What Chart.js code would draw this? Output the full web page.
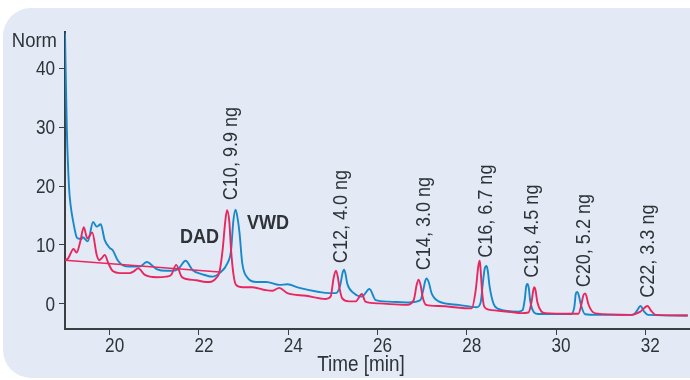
<!DOCTYPE html>
<html>
<head>
<meta charset="utf-8">
<script src="https://cdn.jsdelivr.net/npm/chart.js@4/dist/chart.umd.min.js"></script>
<style>
  html, body { margin: 0; padding: 0; background: #fff; }
  #wrap { width: 690px; height: 380px; }
</style>
</head>
<body>
<div id="wrap"><canvas id="chromChart" width="690" height="380"></canvas></div>
<script>
// ===== DATA =====
const vwdTime = [19.00, 19.04, 19.09, 19.13, 19.19, 19.26, 19.29, 19.37, 19.40, 19.51, 19.63, 19.71, 19.80, 19.89,
  20.00, 20.07, 20.18, 20.30, 20.45, 20.67, 20.83, 21.05, 21.28, 21.41, 21.55, 21.70, 21.86, 22.08, 22.30,
  22.46, 22.64, 22.72, 22.77, 22.82, 22.86, 22.91, 22.97, 23.09, 23.29, 23.51, 23.80, 23.98, 24.25, 24.69,
  24.92, 25.07, 25.16, 25.22, 25.25, 25.28, 25.32, 25.47, 25.65, 25.82, 25.96, 26.25, 26.70, 26.96, 27.03,
  27.07, 27.10, 27.15, 27.21, 27.37, 27.82, 28.22, 28.31, 28.36, 28.40, 28.44, 28.47, 28.51, 28.60, 28.71,
  29.16, 29.25, 29.30, 29.33, 29.36, 29.39, 29.42, 29.51, 29.60, 30.34, 30.41, 30.44, 30.47, 30.51, 30.55,
  30.65, 30.94, 31.72, 31.81, 31.89, 31.97, 32.06, 32.95];
const vwdNorm = [46.0, 30.0, 19.8, 16.5, 13.7, 11.3, 11.1, 11.0, 11.3, 10.6, 13.9, 13.1, 13.5, 10.8,
  9.5, 9.1, 7.4, 6.5, 6.3, 6.3, 7.1, 5.9, 5.6, 5.6, 6.0, 7.3, 5.7, 5.0, 4.6,
  5.2, 6.9, 9.1, 14.0, 16.0, 14.8, 12.0, 6.9, 4.4, 3.7, 3.7, 3.2, 3.3, 2.7, 2.0,
  1.8, 1.8, 3.0, 5.3, 5.8, 5.2, 3.5, 1.8, 1.2, 2.5, 0.6, 0.35, 0.2, 0.6, 2.5,
  3.9, 4.3, 3.6, 1.8, 0.4, -0.2, -0.6, 0.2, 3.5, 5.9, 6.4, 5.6, 3.0, 0.0, -0.9,
  -1.35, -1.1, 0.8, 2.9, 3.35, 2.6, 0.5, -1.5, -1.75, -1.75, -0.5, 1.6, 2.0, 1.4, 0.0,
  -1.8, -1.9, -1.9, -1.2, -0.4, -1.3, -1.9, -2.0];

const dadTime = [19.00, 19.07, 19.19, 19.26, 19.34, 19.42, 19.50, 19.61, 19.71, 19.77, 19.83, 19.89, 19.97,
  20.07, 20.23, 20.45, 20.54, 20.64, 20.79, 21.05, 21.27, 21.38, 21.49, 21.61, 21.72, 21.94, 22.16, 22.24,
  22.39, 22.46, 22.53, 22.59, 22.63, 22.68, 22.72, 22.77, 22.83, 22.98, 23.20, 23.50, 23.65, 23.80, 23.98,
  24.40, 24.84, 24.95, 25.02, 25.07, 25.11, 25.15, 25.21, 25.36, 25.51, 25.65, 25.73, 26.03, 26.63, 26.81,
  26.88, 26.92, 26.97, 27.01, 27.09, 27.37, 28.11, 28.20, 28.26, 28.29, 28.31, 28.34, 28.39, 28.49, 29.00,
  29.22, 29.38, 29.45, 29.49, 29.51, 29.54, 29.58, 29.67, 29.76, 30.34, 30.50, 30.57, 30.61, 30.65, 30.68,
  30.72, 30.88, 31.68, 31.88, 32.05, 32.13, 32.23, 32.95];
const dadNorm = [7.4, 7.7, 9.3, 8.7, 10.5, 13.0, 11.1, 12.1, 8.3, 7.4, 7.8, 8.3, 6.9,
  5.55, 5.2, 5.2, 5.5, 6.0, 4.9, 4.5, 4.6, 4.9, 6.6, 4.6, 4.2, 4.0, 3.7, 3.7,
  4.4, 5.4, 9.1, 14.0, 15.9, 14.0, 9.1, 5.2, 3.2, 2.8, 2.8, 2.3, 2.2, 2.7, 1.8,
  1.35, 0.8, 1.2, 4.5, 5.6, 4.6, 2.6, 0.9, 0.4, 0.4, 1.65, 0.35, 0.05, -0.2, 0.6,
  3.3, 4.1, 3.0, 1.2, -0.2, -0.4, -0.8, 2.3, 6.5, 7.3, 5.8, 2.3, -0.5, -1.0, -1.4,
  -1.6, -1.5, 0.3, 2.3, 2.8, 2.3, 0.3, -1.3, -1.6, -1.7, -1.7, 0.0, 1.4, 1.75, 1.3,
  0.0, -1.65, -1.9, -1.4, -0.4, -1.2, -1.9, -2.0];

// DAD baseline drawn under the early part of the trace
const baseTime = [19.0, 22.46];
const baseNorm = [7.4, 5.4];

const xTicks = [20, 22, 24, 26, 28, 30, 32];
const yTicks = [0, 10, 20, 30, 40];

// peak labels: text, time and norm where the text starts
const peakText = ["C10, 9.9 ng", "C12, 4.0 ng", "C14, 3.0 ng", "C16, 6.7 ng", "C18, 4.5 ng", "C20, 5.2 ng", "C22, 3.3 ng"];
const peakTime = [22.73, 25.18, 27.06, 28.44, 29.47, 30.63, 32.06];
const peakNorm = [17.6, 6.9, 5.7, 7.8, 4.4, 2.8, 1.0];

const BLUE = "#1789cb";
const RED = "#e8275f";
const TXT = "#2f3338";
const AXIS = "#3b3f44";
const FONT = "'Liberation Sans', Arial, sans-serif";
const NARROW = 0.88; // squeeze to get a condensed look

const pts = (xs, ys) => xs.map((x, i) => ({ x: x, y: ys[i] }));

// condensed text helper
function narrowText(c, text, x, y, opt) {
  c.save();
  c.translate(x, y);
  if (opt.rot) c.rotate(opt.rot);
  c.scale(NARROW, 1);
  c.font = (opt.bold ? "bold " : "") + opt.size + "px " + FONT;
  c.textAlign = opt.align || "left";
  c.textBaseline = opt.base || "alphabetic";
  c.fillStyle = TXT;
  c.fillText(text, 0, 0);
  c.restore();
}

// ===== background + texts =====
const decor = {
  id: "decor",
  beforeDraw(chart) {
    const c = chart.ctx;
    c.save();
    c.fillStyle = "#ffffff";
    c.fillRect(0, 0, chart.width, chart.height);
    c.fillStyle = "#e3eaf6";
    c.beginPath();
    c.roundRect(3, 8, 740, 370, 28);
    c.fill();
    c.restore();
  },
  afterDraw(chart) {
    const c = chart.ctx;
    const xs = chart.scales.x, ys = chart.scales.y;

    // tick labels
    xs.ticks.forEach(t => {
      narrowText(c, String(t.value), xs.getPixelForValue(t.value) + 5, 352, { size: 19.5, align: "center" });
    });
    ys.ticks.forEach(t => {
      narrowText(c, String(t.value), 55, ys.getPixelForValue(t.value) + 7, { size: 19.5, align: "right" });
    });

    narrowText(c, "Norm", 57, 47, { size: 21, align: "right" });
    narrowText(c, "Time [min]", 361, 371, { size: 21.5, align: "center" });

    narrowText(c, "DAD", 180, 243, { size: 20.5, bold: true });
    narrowText(c, "VWD", 247, 229, { size: 20.5, bold: true });

    peakText.forEach((t, i) => {
      narrowText(c, t, xs.getPixelForValue(peakTime[i]), ys.getPixelForValue(peakNorm[i]),
        { size: 20.5, rot: -Math.PI / 2, base: "middle" });
    });
  }
};

new Chart(document.getElementById("chromChart"), {
  type: "line",
  data: {
    datasets: [
      { label: "DAD baseline", data: pts(baseTime, baseNorm), borderColor: RED, borderWidth: 1.6, pointRadius: 0 },
      { label: "DAD", data: pts(dadTime, dadNorm), borderColor: RED, borderWidth: 1.9, pointRadius: 0, cubicInterpolationMode: "monotone" },
      { label: "VWD", data: pts(vwdTime, vwdNorm), borderColor: BLUE, borderWidth: 1.9, pointRadius: 0, cubicInterpolationMode: "monotone" }
    ]
  },
  options: {
    responsive: false,
    animation: false,
    layout: { padding: { top: 32, left: 0, right: 0, bottom: 0 } },
    plugins: { legend: { display: false }, tooltip: { enabled: false } },
    scales: {
      x: {
        type: "linear",
        min: 19,
        max: 33,
        afterBuildTicks: s => { s.ticks = xTicks.map(v => ({ value: v })); },
        afterFit: s => { s.height = 51; },
        grid: { drawOnChartArea: false, drawTicks: true, tickLength: 6, color: AXIS },
        border: { color: AXIS, width: 2 },
        ticks: { display: false }
      },
      y: {
        min: -4.3,
        max: 46.2,
        afterBuildTicks: s => { s.ticks = yTicks.map(v => ({ value: v })); },
        afterFit: s => { s.width = 65; },
        grid: { drawOnChartArea: false, drawTicks: true, tickLength: 6, color: AXIS },
        border: { color: AXIS, width: 2 },
        ticks: { display: false }
      }
    }
  },
  plugins: [decor]
});
</script>
</body>
</html>
